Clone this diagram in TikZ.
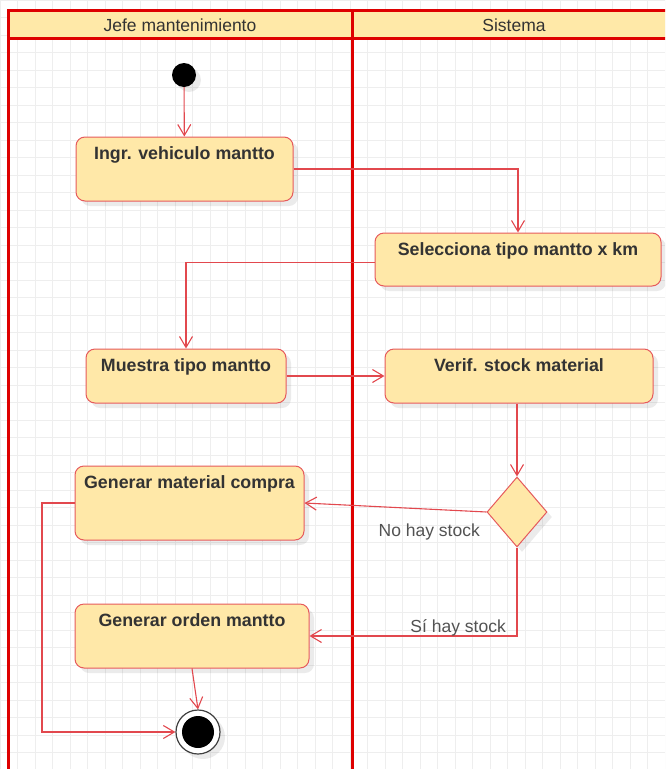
\documentclass[tikz,border=0pt]{standalone}
\usepackage{fontspec}
\setmainfont{Liberation Sans}
\usetikzlibrary{arrows.meta,shapes.geometric,shadows}
\definecolor{boxfill}{RGB}{255,232,168}
\definecolor{boxborder}{RGB}{230,90,92}
\definecolor{linec}{RGB}{226,72,78}
\definecolor{lanered}{RGB}{222,0,0}
\definecolor{headfill}{RGB}{255,233,168}
\definecolor{textc}{RGB}{51,51,51}
\definecolor{gridc}{RGB}{238,238,238}
\begin{document}
\begin{tikzpicture}[x=1pt,y=-1pt,
  shade/.style={drop shadow={shadow xshift=5pt,shadow yshift=-5pt,fill=black,opacity=0.08}},
  act/.style={draw=boxborder,fill=boxfill,rounded corners=9pt,line width=1pt,inner sep=0pt,shade},
  lbl/.style={anchor=base,yshift=-22.5pt,font=\bfseries\fontsize{17.8}{20}\selectfont,text=textc,inner sep=0pt},
  head/.style={anchor=base,font=\fontsize{17.5}{20}\selectfont,text=textc,inner sep=0pt},
  guard/.style={anchor=base east,font=\fontsize{17.5}{20}\selectfont,text=textc!85,inner sep=0pt},
  flow/.style={draw=linec,line width=1.1pt,-{Straight Barb[length=11pt,width=13pt,line width=1.1pt]}},
  lane/.style={draw=lanered,line width=3pt},
  decision/.style={diamond,draw=boxborder,fill=boxfill,line width=1pt,inner sep=0pt,minimum width=60pt,minimum height=70pt,shade},
  startnode/.style={circle,fill=black,minimum size=24pt,inner sep=0pt,shade},
  endnode/.style={circle,draw=black!75,fill=white,line width=1.2pt,minimum size=44pt,inner sep=0pt,shade,
    path picture={\fill[black] (path picture bounding box.center) circle (16pt);}}]
\useasboundingbox (0,0) rectangle (665,769);
\clip (0,0) rectangle (665,769);
% grid
\draw[gridc,line width=0.8pt,step=17.5pt] (0,0) grid (665,769);
% swimlanes
\fill[headfill] (8,10) rectangle (680,38);
\draw[lane] (8,780) -- (8,10) -- (680,10);
\draw[lane] (8,38) -- (680,38);
\draw[lane] (352,10) -- (352,780);
\node[head] (h1) at (180,31) {Jefe mantenimiento};
\node[head] (h2) at (514,31) {Sistema};
% nodes
\node[startnode] (start) at (184,75) {};
\node[act,minimum width=217pt,minimum height=64pt,label={[lbl]north:Ingr. vehiculo mantto}] (a1) at (184.5,169) {};
\node[act,minimum width=286pt,minimum height=53pt,label={[lbl]north:Selecciona tipo mantto x km}] (a2) at (518,259.5) {};
\node[act,minimum width=200pt,minimum height=54pt,label={[lbl]north:Muestra tipo mantto}] (a3) at (186,376) {};
\node[act,minimum width=268pt,minimum height=54pt,label={[lbl]north:Verif. stock material}] (a4) at (519,376) {};
\node[decision] (d) at (517,512) {};
\node[act,minimum width=229pt,minimum height=74pt,label={[lbl]north:Generar material compra}] (a5) at (189.5,503) {};
\node[act,minimum width=234pt,minimum height=64pt,label={[lbl]north:Generar orden mantto}] (a6) at (192,636) {};
\node[endnode] (end) at (198,732) {};
\coordinate (c1) at (42,0);
% connectors
\draw[flow] (start) -- (a1);
\draw[flow] (a1.east) -| (a2.north);
\draw[flow] ([yshift=-3pt]a2.west) -| (a3.north);
\draw[flow] (a3.east) -- (a4.west);
\draw[flow] (a4.south -| d.north) -- (d.north);
\draw[flow] (d.west) -- (a5.east);
\node[guard] (g1) at (480,536) {No hay stock};
\draw[flow] (d.south) |- (a6.east);
\node[guard] (g2) at (506,632) {Sí hay stock};
\draw[flow] (a5.west) -- (a5.west -| c1) |- (end.west);
\draw[flow] (a6.south) -- (end.north);
\end{tikzpicture}
\end{document}
